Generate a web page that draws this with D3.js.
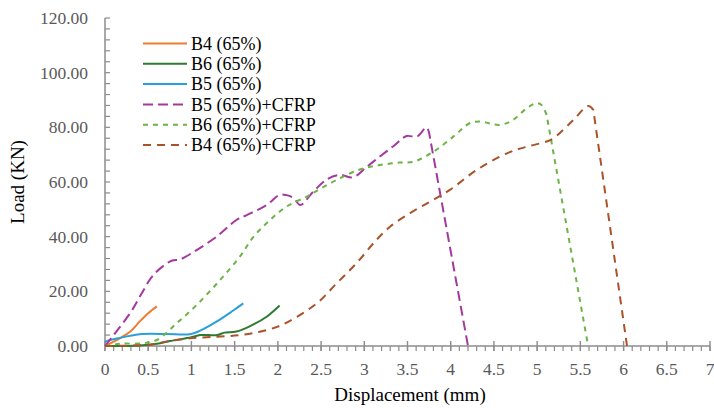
<!DOCTYPE html>
<html>
<head>
<meta charset="utf-8">
<script src="https://cdn.jsdelivr.net/npm/d3@7"></script>
<style>
  body { margin: 0; background: #fff; }
  svg text { font-family: "Liberation Serif", "DejaVu Serif", serif; }
</style>
</head>
<body>
<svg id="chart" width="714" height="408"></svg>
<script>
// series (displacement mm, load kN)
var b4_x = [0, 0.17, 0.29, 0.4, 0.5, 0.6];
var b4_y = [0, 2.8, 5.2, 8.9, 12, 14.5];

var b6_x = [0, 0.4, 0.6, 0.75, 1.0, 1.1, 1.3, 1.38, 1.52, 1.68, 1.87, 2.02];
var b6_y = [0, 0.2, 0.8, 1.8, 3.2, 4, 4, 4.9, 5.3, 7.3, 10.7, 14.8];

var b5_x = [0, 0.15, 0.4, 0.71, 0.98, 1.1, 1.29, 1.48, 1.6];
var b5_y = [1.6, 2.8, 4.3, 4.4, 4.3, 5.6, 8.9, 12.9, 15.6];

var b5c_x = [0, 0.29, 0.42, 0.56, 0.77, 0.87, 1.06, 1.29, 1.52, 1.64, 1.87, 2.02, 2.1, 2.18, 2.26, 2.41, 2.57, 2.72, 2.87, 3.03, 3.18, 3.34, 3.49, 3.61, 3.72, 3.75, 4.2];
var b5c_y = [0, 12, 19, 26, 31.2, 31.7, 35.1, 40, 46.1, 47.9, 51.6, 55.3, 55.2, 54.2, 51.6, 56.5, 61, 62.6, 61.7, 65.6, 69.3, 73.2, 76.8, 76.6, 80, 78, 0];

var b6c_x = [0, 0.17, 0.44, 0.6, 0.83, 1.06, 1.33, 1.56, 1.72, 1.91, 2.1, 2.33, 2.49, 2.72, 2.95, 3.18, 3.41, 3.57, 3.8, 4.03, 4.22, 4.34, 4.57, 4.72, 4.88, 4.99, 5.05, 5.11, 5.59];
var b6c_y = [0, 0.8, 1, 2.2, 8.3, 15, 24.1, 32.7, 40, 46.1, 51, 54.6, 57.5, 61.4, 64.6, 66.2, 67.1, 67.4, 71.1, 76.6, 81.5, 82.1, 80.9, 82.7, 87, 88.8, 88.2, 84.5, 0];

var b4c_x = [0, 0.52, 0.71, 0.98, 1.29, 1.56, 1.79, 1.99, 2.14, 2.45, 2.68, 2.91, 3.14, 3.3, 3.53, 3.76, 3.99, 4.3, 4.65, 4.88, 5.11, 5.19, 5.42, 5.59, 5.65, 6.04];
var b4c_y = [0, 0.5, 1.6, 2.8, 3.4, 4, 5.2, 7, 9.2, 15.6, 22.9, 30.3, 38.8, 43.7, 48.6, 52.8, 57.1, 64.4, 70.5, 72.9, 74.8, 76, 82.7, 87.8, 86.4, 0];

var seriesNames = ["B4 (65%)", "B6 (65%)", "B5 (65%)", "B5 (65%)+CFRP", "B6 (65%)+CFRP", "B4 (65%)+CFRP"];
var xTicks = [0, 0.5, 1, 1.5, 2, 2.5, 3, 3.5, 4, 4.5, 5, 5.5, 6, 6.5, 7];
var yTicks = [0, 20, 40, 60, 80, 100, 120];

// failure = last point is the sudden drop, drawn straight
var series = [
    {name: seriesNames[0], xs: b4_x, ys: b4_y, color: "#ED7D31", dash: null, failure: false},
    {name: seriesNames[1], xs: b6_x, ys: b6_y, color: "#2F7A32", dash: null, failure: false},
    {name: seriesNames[2], xs: b5_x, ys: b5_y, color: "#2AA0D8", dash: null, failure: false},
    {name: seriesNames[3], xs: b5c_x, ys: b5c_y, color: "#A3399E", dash: "10,5", failure: true},
    {name: seriesNames[4], xs: b6c_x, ys: b6c_y, color: "#6DB346", dash: "5,5", failure: true},
    {name: seriesNames[5], xs: b4c_x, ys: b4c_y, color: "#A9532A", dash: "8,6", failure: true}
];

var svg = d3.select("#chart");
var axisColor = "#8c8c8c";

var x = d3.scaleLinear().domain([0, 7]).range([105, 710]);
var y = d3.scaleLinear().domain([0, 120]).range([346, 18]);

// y axis
var gy = svg.append("g");
gy.append("line")
    .attr("x1", x(0)).attr("x2", x(0))
    .attr("y1", y(120)).attr("y2", y(0))
    .attr("stroke", axisColor).attr("stroke-width", 1.5);
gy.selectAll("line.ytick")
    .data(d3.range(0, 121, 4))
    .join("line")
    .attr("class", "ytick")
    .attr("x1", x(0)).attr("x2", x(0) + 5)
    .attr("y1", d => y(d)).attr("y2", d => y(d))
    .attr("stroke", axisColor).attr("stroke-width", 1.2);
gy.selectAll("text")
    .data(yTicks)
    .join("text")
    .attr("x", 88)
    .attr("y", d => y(d))
    .attr("dy", "0.35em")
    .attr("text-anchor", "end")
    .attr("fill", "#595959")
    .style("font-size", "17.5px")
    .text(d => d3.format(".2f")(d));

// x axis
var gx = svg.append("g");
gx.append("line")
    .attr("x1", x(0)).attr("x2", x(7))
    .attr("y1", y(0)).attr("y2", y(0))
    .attr("stroke", axisColor).attr("stroke-width", 1.5);
gx.selectAll("line.xminor")
    .data(d3.range(0, 71).map(d => d / 10))
    .join("line")
    .attr("class", "xminor")
    .attr("x1", d => x(d)).attr("x2", d => x(d))
    .attr("y1", y(0)).attr("y2", y(0) + 5)
    .attr("stroke", axisColor).attr("stroke-width", 1.2);
gx.selectAll("line.xmajor")
    .data(xTicks)
    .join("line")
    .attr("class", "xmajor")
    .attr("x1", d => x(d)).attr("x2", d => x(d))
    .attr("y1", y(0) - 5).attr("y2", y(0) + 5)
    .attr("stroke", axisColor).attr("stroke-width", 1.4);
gx.selectAll("text")
    .data(xTicks)
    .join("text")
    .attr("x", d => x(d))
    .attr("y", 375)
    .attr("text-anchor", "middle")
    .attr("fill", "#595959")
    .style("font-size", "17.5px")
    .text(d => d);

// axis titles
svg.append("text")
    .attr("x", 410).attr("y", 401)
    .attr("text-anchor", "middle")
    .attr("fill", "#000")
    .style("font-size", "19px")
    .text("Displacement (mm)");
svg.append("text")
    .attr("transform", "translate(24,182) rotate(-90)")
    .attr("text-anchor", "middle")
    .attr("fill", "#000")
    .style("font-size", "19px")
    .text("Load (KN)");

// lines
var line = d3.line()
    .x(d => x(d[0]))
    .y(d => y(d[1]))
    .curve(d3.curveCatmullRom.alpha(0.5));

function seriesPath(s) {
    var pts = s.xs.map((v, i) => [v, s.ys[i]]);
    if (!s.failure) return line(pts);
    var last = pts[pts.length - 1];
    return line(pts.slice(0, -1)) + "L" + x(last[0]) + "," + y(last[1]);
}

svg.append("g")
    .selectAll("path")
    .data(series)
    .join("path")
    .attr("d", seriesPath)
    .attr("fill", "none")
    .attr("stroke", s => s.color)
    .attr("stroke-width", 2)
    .attr("stroke-dasharray", s => s.dash);

// legend
var legend = svg.append("g");
var rowY = d => 43.5 + d * 20.3;
legend.selectAll("line")
    .data(series)
    .join("line")
    .attr("x1", 143).attr("x2", 187)
    .attr("y1", (s, i) => rowY(i)).attr("y2", (s, i) => rowY(i))
    .attr("stroke", s => s.color)
    .attr("stroke-width", 2)
    .attr("stroke-dasharray", s => s.dash);
legend.selectAll("text")
    .data(series)
    .join("text")
    .attr("x", 191)
    .attr("y", (s, i) => rowY(i))
    .attr("dy", "0.35em")
    .attr("fill", "#000")
    .style("font-size", "18px")
    .text(s => s.name);
</script>
</body>
</html>
